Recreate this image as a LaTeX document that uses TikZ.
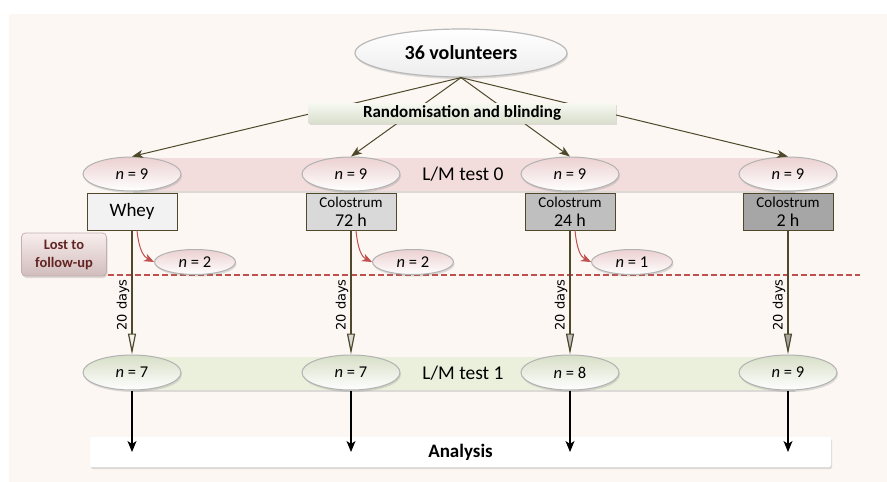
\documentclass[tikz,border=0pt]{standalone}
\usepackage{fontspec}
\setmainfont{Carlito}
\newfontfamily\daysfont{DejaVu Sans}
\usetikzlibrary{shapes.geometric,arrows.meta,shadows}

\definecolor{bgbeige}{RGB}{252,247,243}
\definecolor{olive}{RGB}{79,72,42}
\definecolor{pinkband}{RGB}{242,221,220}
\definecolor{greenband}{RGB}{234,240,220}
\definecolor{pinkshade}{RGB}{236,208,208}
\definecolor{greenshade}{RGB}{214,222,198}
\definecolor{lostred}{RGB}{192,80,77}
\definecolor{darkred}{RGB}{99,37,35}
\definecolor{whey}{RGB}{242,242,242}
\definecolor{colA}{RGB}{217,217,217}
\definecolor{colB}{RGB}{191,191,191}
\definecolor{colC}{RGB}{166,166,166}

\newcommand{\armtext}[1]{Colostrum\\{\fontsize{18}{19}\selectfont #1}}

\tikzset{every picture/.style={line width=0.75pt}}
\tikzset{
  softshadow/.style={drop shadow={opacity=0.25,shadow xshift=1pt,shadow yshift=-2pt}},
  volunteers/.style={ellipse,draw=gray!55,line width=1.2pt,top color=white,bottom color=gray!14,
    minimum width=212pt,minimum height=48pt,inner sep=0pt,softshadow,
    font=\fontsize{20}{24}\selectfont\bfseries},
  randbox/.style={rectangle,top color=white!60!greenband,bottom color=greenband!85!gray,
    minimum width=307pt,minimum height=20pt,inner sep=0pt,softshadow,
    font=\fontsize{17}{20}\selectfont\bfseries},
  lmband/.style={rectangle,minimum width=662pt,minimum height=33pt,inner sep=0pt,
    softshadow,font=\fontsize{19.5}{22}\selectfont},
  testzero/.style={ellipse,draw=gray!60,line width=1pt,top color=pinkshade,bottom color=white,
    minimum width=98pt,minimum height=34pt,inner sep=0pt,softshadow,
    font=\fontsize{16.5}{19}\selectfont},
  testone/.style={ellipse,draw=gray!60,line width=1pt,top color=greenshade,bottom color=white,
    minimum width=98pt,minimum height=35pt,inner sep=0pt,softshadow,
    font=\fontsize{16.5}{19}\selectfont},
  lostn/.style={testzero,minimum width=81pt,minimum height=25pt},
  armbox/.style={rectangle,draw=olive,line width=1pt,minimum width=90pt,minimum height=37pt,
    inner sep=0pt,align=center,font=\fontsize{15}{19}\selectfont},
  lostbox/.style={rectangle,rounded corners=4pt,draw=pinkshade!60!gray,top color=pinkband!50!white,
    bottom color=pinkshade!75!gray,minimum width=85pt,minimum height=43pt,inner sep=0pt,
    align=center,text=darkred,softshadow,font=\fontsize{14.5}{18}\selectfont\bfseries},
  analysisbox/.style={rectangle,rounded corners=2pt,fill=white,minimum width=741pt,
    minimum height=30pt,inner sep=0pt,softshadow,font=\fontsize{19}{22}\selectfont\bfseries},
  randarrow/.style={draw=olive,line width=1pt,-{Stealth[length=11pt,width=8pt,inset=3pt]}},
  dayline/.style={draw=olive,line width=1.2pt},
  dayslabel/.style={pos=0.6,rotate=90,anchor=south,inner sep=2pt,text=black,
    font=\daysfont\fontsize{13}{15}\selectfont},
  lostarrow/.style={draw=lostred,line width=1pt,-{Stealth[length=10pt,width=8pt,inset=3pt]}},
  lostline/.style={draw=lostred,line width=1.3pt,dash pattern=on 6pt off 3pt},
  endarrow/.style={draw=black,line width=1.2pt,-{Stealth[length=11pt,width=9pt,inset=3pt]}}
}

\begin{document}
\begin{tikzpicture}[x=1pt,y=1pt,yscale=-1,xscale=1]
	\useasboundingbox (0,0) rectangle (887,482);
	%Background
	\fill [bgbeige] (9,14) rectangle (887,482);
	
	%Bands
	\node [lmband,fill=pinkband] (band0) at (463,174) {L/M test 0};
	\node [lmband,fill=greenband] (band1) at (463,373) {L/M test 1};
	
	%Top ellipse
	\node [volunteers] (vol) at (461,53) {36 volunteers};
	
	%Ellipses, L/M test 0
	\node [testzero] (z1) at (132,174) {\textit{n} = 9};
	\node [testzero] (z2) at (351,174) {\textit{n} = 9};
	\node [testzero] (z3) at (570,174) {\textit{n} = 9};
	\node [testzero] (z4) at (788,174) {\textit{n} = 9};
	
	%Randomisation arrows
	\draw [randarrow] (vol.south) -- (z1.north);
	\draw [randarrow] (vol.south) -- (z2.north);
	\draw [randarrow] (vol.south) -- (z3.north);
	\draw [randarrow] (vol.south) -- (z4.north);
	\node [randbox] (rand) at (462,113) {Randomisation and blinding};
	
	%Arms
	\node [armbox,fill=whey,font=\fontsize{19}{22}\selectfont] (b1) at (132,211.5) {Whey};
	\node [armbox,fill=colA] (b2) at (351,211.5) {\armtext{72 h}};
	\node [armbox,fill=colB] (b3) at (570,211.5) {\armtext{24 h}};
	\node [armbox,fill=colC] (b4) at (788,211.5) {\armtext{2 h}};
	
	%Lost to follow-up
	\draw [lostline] (27,275) -- (860,275);
	\node [lostbox] (lost) at (64,254.5) {Lost to\\follow-up};
	
	%Ellipses, L/M test 1
	\node [testone] (g1) at (132,372.5) {\textit{n} = 7};
	\node [testone] (g2) at (351,372.5) {\textit{n} = 7};
	\node [testone] (g3) at (570,372.5) {\textit{n} = 8};
	\node [testone] (g4) at (788,372.5) {\textit{n} = 9};
	
	%20 days lines
	\draw [dayline,-{Triangle[length=21pt,width=8pt,fill=whey]}] (b1) -- node [dayslabel] {20 days} (g1);
	\draw [dayline,-{Triangle[length=21pt,width=8pt,fill=colA]}] (b2) -- node [dayslabel] {20 days} (g2);
	\draw [dayline,-{Triangle[length=21pt,width=8pt,fill=colB]}] (b3) -- node [dayslabel] {20 days} (g3);
	\draw [dayline,-{Triangle[length=21pt,width=8pt,fill=colC]}] (b4) -- node [dayslabel] {20 days} (g4);
	
	%Dropouts
	\node [lostn] (l1) at (195,262) {\textit{n} = 2};
	\node [lostn] (l2) at (413,262) {\textit{n} = 2};
	\node [lostn] (l3) at (632,262) {\textit{n} = 1};
	\draw [lostarrow] ([xshift=5pt]b1.south) .. controls +(2,20) and +(-10,-5) .. (l1.west);
	\draw [lostarrow] ([xshift=5pt]b2.south) .. controls +(2,20) and +(-10,-5) .. (l2.west);
	\draw [lostarrow] ([xshift=5pt]b3.south) .. controls +(2,20) and +(-10,-5) .. (l3.west);
	
	%Analysis
	\node [analysisbox] (ana) at (460.5,452) {Analysis};
	\draw [endarrow] (g1.south) -- (g1.south |- ana.center);
	\draw [endarrow] (g2.south) -- (g2.south |- ana.center);
	\draw [endarrow] (g3.south) -- (g3.south |- ana.center);
	\draw [endarrow] (g4.south) -- (g4.south |- ana.center);
	
\end{tikzpicture}
\end{document}
